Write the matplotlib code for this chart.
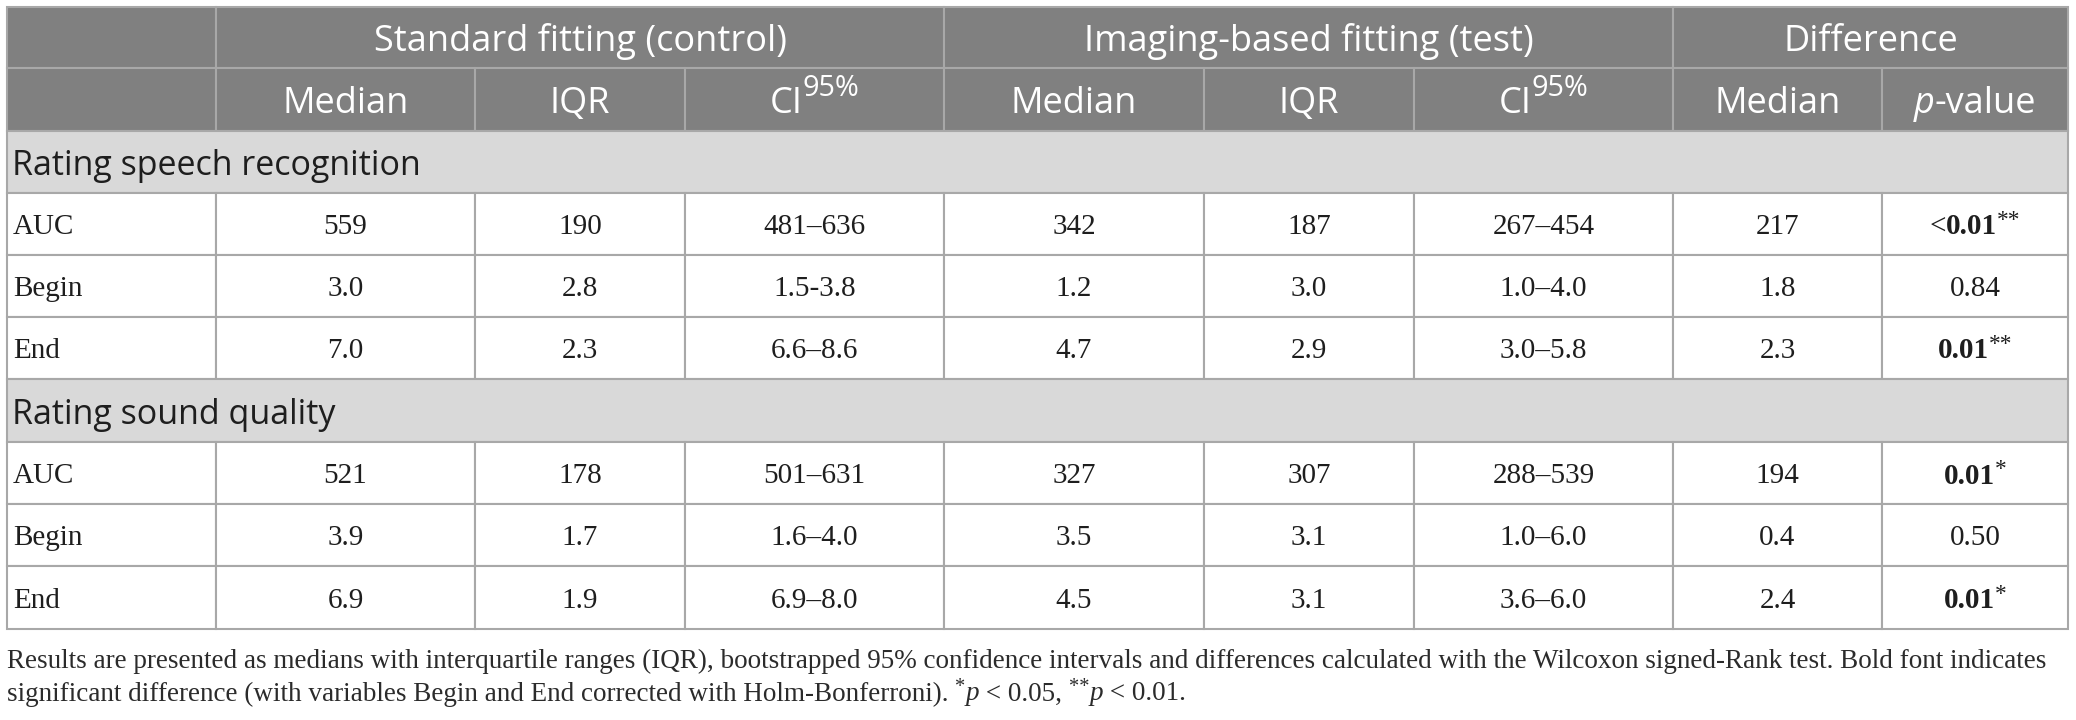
import matplotlib
import matplotlib.pyplot as plt
from matplotlib.patches import Rectangle

matplotlib.use('Agg')

# --- data ---
groups = ['Standard fitting (control)', 'Imaging-based fitting (test)', 'Difference']
group_span = [3, 3, 2]
sub_cols = ['Median', 'IQR', 'CI', 'Median', 'IQR', 'CI', 'Median', 'p-value']
sections = ['Rating speech recognition', 'Rating sound quality']
row_labels = ['AUC', 'Begin', 'End']

speech_std_median = ['559', '3.0', '7.0']
speech_std_iqr = ['190', '2.8', '2.3']
speech_std_ci = ['481–636', '1.5-3.8', '6.6–8.6']
speech_img_median = ['342', '1.2', '4.7']
speech_img_iqr = ['187', '3.0', '2.9']
speech_img_ci = ['267–454', '1.0–4.0', '3.0–5.8']
speech_diff_median = ['217', '1.8', '2.3']
speech_p_prefix = ['<', '', '']
speech_p_value = ['0.01', '0.84', '0.01']
speech_p_stars = ['**', '', '**']

sound_std_median = ['521', '3.9', '6.9']
sound_std_iqr = ['178', '1.7', '1.9']
sound_std_ci = ['501–631', '1.6–4.0', '6.9–8.0']
sound_img_median = ['327', '3.5', '4.5']
sound_img_iqr = ['307', '3.1', '3.1']
sound_img_ci = ['288–539', '1.0–6.0', '3.6–6.0']
sound_diff_median = ['194', '0.4', '2.4']
sound_p_prefix = ['', '', '']
sound_p_value = ['0.01', '0.50', '0.01']
sound_p_stars = ['*', '', '*']

footnote_1 = ('Results are presented as medians with interquartile ranges (IQR), bootstrapped 95% confidence '
              'intervals and differences calculated with the Wilcoxon signed-Rank test. Bold font indicates')
footnote_2 = 'significant difference (with variables Begin and End corrected with Holm-Bonferroni). '

# --- layout (pixels) ---
col_edges = [7, 216, 475, 685, 944, 1204, 1414, 1673, 1882, 2068]
row_edges = [7, 68, 131, 193, 255, 317, 379, 442, 504, 566, 629]

HEAD_BG = '#808080'
SECT_BG = '#d9d9d9'
LINE = '#a8a8a8'
TXT = '#1e1e1e'
SANS = 'Open Sans'
SERIF = 'Liberation Serif'
HEAD_FS = 26
SECT_FS = 24.5
BODY_FS = 21
NOTE_FS = 19.5
LW = 1.5

fig = plt.figure(figsize=(20.76, 7.2), dpi=100)
ax = fig.add_axes([0, 0, 1, 1])
ax.set_xlim(0, 2076)
ax.set_ylim(720, 0)
ax.axis('off')
renderer = fig.canvas.get_renderer()


def cell(x0, x1, y0, y1, color):
    ax.add_patch(Rectangle((x0, y0), x1 - x0, y1 - y0, facecolor=color,
                           edgecolor=LINE, linewidth=LW, zorder=1))


def draw_runs(x, y, runs, ha='center'):
    """runs: список (текст, свойства, подъём в px) — рисуется в одну строку"""
    items = []
    total = 0
    for s, kw, dy in runs:
        t = ax.text(0, 0, s, ha='left', va='center_baseline', zorder=3, **kw)
        w = t.get_window_extent(renderer).width
        items.append((t, w, dy))
        total += w
    cx = x - total / 2 if ha == 'center' else x
    for t, w, dy in items:
        t.set_position((cx, y - dy))
        cx += w


# header row 1
y0, y1 = row_edges[0], row_edges[1]
cell(col_edges[0], col_edges[1], y0, y1, HEAD_BG)
c = 1
for g, span in zip(groups, group_span):
    cell(col_edges[c], col_edges[c + span], y0, y1, HEAD_BG)
    ax.text((col_edges[c] + col_edges[c + span]) / 2, (y0 + y1) / 2, g, ha='center',
            va='center_baseline', color='white', family=SANS, fontsize=HEAD_FS, zorder=3)
    c += span

# header row 2
y0, y1 = row_edges[1], row_edges[2]
cell(col_edges[0], col_edges[1], y0, y1, HEAD_BG)
head_kw = dict(color='white', family=SANS, fontsize=HEAD_FS)
sup_kw = dict(color='white', family=SANS, fontsize=HEAD_FS * 0.8)
for i, name in enumerate(sub_cols):
    xa, xb = col_edges[i + 1], col_edges[i + 2]
    cell(xa, xb, y0, y1, HEAD_BG)
    xm, ym = (xa + xb) / 2, (y0 + y1) / 2
    if name == 'CI':
        draw_runs(xm, ym, [('CI', head_kw, 0), ('95%', sup_kw, 14)])
    elif name == 'p-value':
        draw_runs(xm, ym, [('p', dict(head_kw, style='italic'), 0), ('-value', head_kw, 0)])
    else:
        draw_runs(xm, ym, [(name, head_kw, 0)])

body_kw = dict(color=TXT, family=SERIF, fontsize=BODY_FS)
bold_kw = dict(body_kw, weight='bold')
star_kw = dict(color=TXT, family=SERIF, fontsize=BODY_FS * 0.8)

blocks = [
    (sections[0], [speech_std_median, speech_std_iqr, speech_std_ci, speech_img_median,
                   speech_img_iqr, speech_img_ci, speech_diff_median],
     speech_p_prefix, speech_p_value, speech_p_stars),
    (sections[1], [sound_std_median, sound_std_iqr, sound_std_ci, sound_img_median,
                   sound_img_iqr, sound_img_ci, sound_diff_median],
     sound_p_prefix, sound_p_value, sound_p_stars),
]

r = 2
for title, cols, pre, pval, stars in blocks:
    y0, y1 = row_edges[r], row_edges[r + 1]
    cell(col_edges[0], col_edges[-1], y0, y1, SECT_BG)
    ax.text(col_edges[0] + 5, (y0 + y1) / 2, title, ha='left', va='center_baseline',
            color=TXT, family=SANS, fontsize=SECT_FS, zorder=3)
    r += 1
    for k, lab in enumerate(row_labels):
        y0, y1 = row_edges[r], row_edges[r + 1]
        ym = (y0 + y1) / 2
        cell(col_edges[0], col_edges[1], y0, y1, 'white')
        ax.text(col_edges[0] + 6, ym, lab, ha='left', va='center_baseline', zorder=3, **body_kw)
        for j, col in enumerate(cols):
            xa, xb = col_edges[j + 1], col_edges[j + 2]
            cell(xa, xb, y0, y1, 'white')
            draw_runs((xa + xb) / 2, ym, [(col[k], body_kw, 0)])
        xa, xb = col_edges[-2], col_edges[-1]
        cell(xa, xb, y0, y1, 'white')
        if stars[k]:
            runs = []
            if pre[k]:
                runs.append((pre[k], body_kw, 0))
            runs += [(pval[k], bold_kw, 0), (stars[k], star_kw, 6)]
        else:
            runs = [(pre[k] + pval[k], body_kw, 0)]
        draw_runs((xa + xb) / 2, ym, runs)
        r += 1

# footnote
note_kw = dict(color='#2b2b2b', family=SERIF, fontsize=NOTE_FS)
note_it = dict(note_kw, style='italic')
note_sup = dict(note_kw, fontsize=NOTE_FS * 0.75)
draw_runs(col_edges[0], 658, [(footnote_1, note_kw, 0)], ha='left')
draw_runs(col_edges[0], 691, [(footnote_2, note_kw, 0), ('*', note_sup, 6), ('p', note_it, 0),
                               (' < 0.05, ', note_kw, 0), ('**', note_sup, 6), ('p', note_it, 0),
                               (' < 0.01.', note_kw, 0)], ha='left')

fig.savefig('out.png', dpi=100)
